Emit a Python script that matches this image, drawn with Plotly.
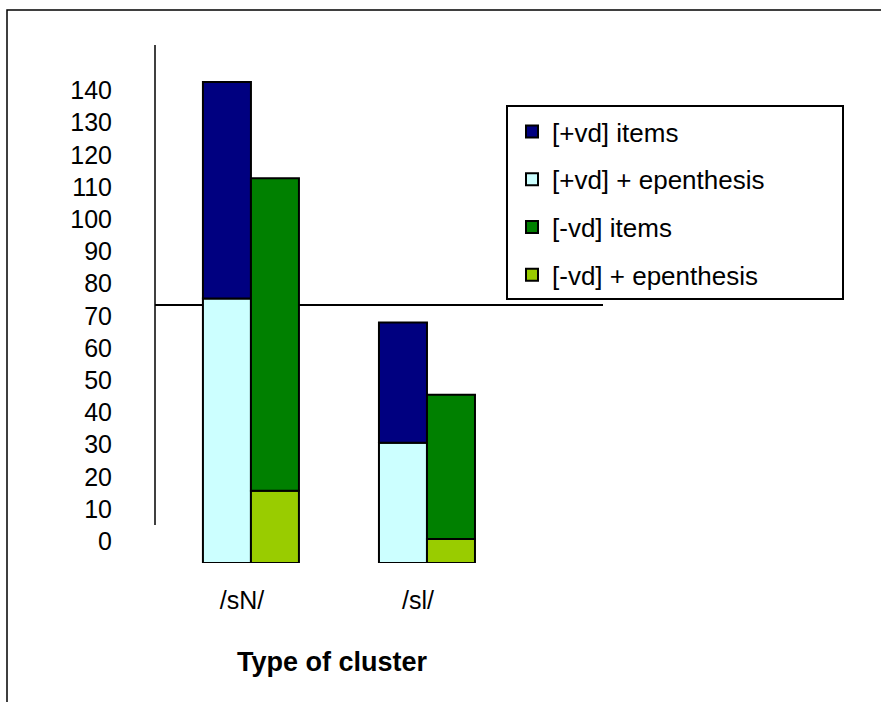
import plotly.graph_objects as go

# Cluster types on the category axis
clusters = ["/sN/", "/sl/"]

# Voiced ([+vd]) stack: epenthesis part at the bottom, remaining items above
vd_epenthesis = [77, 35]
vd_items = [63, 35]

# Voiceless ([-vd]) stack: epenthesis part at the bottom, remaining items above
vl_epenthesis = [21, 7]
vl_items = [91, 42]

# Labels printed along the value scale
scale_ticks = list(range(0, 150, 10))

W, H = 881, 702
FONT = "Liberation Sans, Arial, sans-serif"


def px(x):
    return x / W


def py(y):
    return 1 - y / H


BAR_W = 0.2727
edge = dict(color="black", width=2)

series = [
    # name, values, base, colour, offset, legend position
    ("[+vd] + epenthesis", vd_epenthesis, None, "#CCFFFF", -BAR_W, 2),
    ("[+vd] items", vd_items, vd_epenthesis, "#000080", -BAR_W, 1),
    ("[-vd] + epenthesis", vl_epenthesis, None, "#99CC00", 0, 4),
    ("[-vd] items", vl_items, vl_epenthesis, "#008000", 0, 3),
]

fig = go.Figure()

for name, vals, base, colour, off, rank in series:
    fig.add_trace(go.Bar(
        x=clusters, y=vals, base=base, name=name,
        marker=dict(color=colour, line=edge),
        width=BAR_W, offset=off,
        legendgroup=f"g{rank}", legendrank=rank,
    ))

# Invisible trace carrying the printed value scale
fig.add_trace(go.Scatter(x=[clusters[0]], y=[0], yaxis="y2", mode="markers",
                         marker=dict(opacity=0), showlegend=False,
                         hoverinfo="skip"))

y_bottom_px, y_top_px = 563, 45
bar_scale = (563 - 82) / 140.0  # px per unit for the bars
dom_h = y_bottom_px - y_top_px

label_zero_px, label_scale = 541.3, 3.22

fig.update_layout(
    width=W, height=H, autosize=False,
    margin=dict(l=0, r=0, t=0, b=0),
    paper_bgcolor="white", plot_bgcolor="rgba(0,0,0,0)",
    barmode="overlay",
    font=dict(family=FONT, size=25, color="black"),
    xaxis=dict(
        domain=[px(155), px(603)], type="category",
        categoryorder="array", categoryarray=clusters,
        range=[-0.545, 2.0],
        showline=False, showgrid=False, zeroline=False, ticks="",
        tickfont=dict(size=25), ticklabelstandoff=20, ticklabelshift=-9,
    ),
    yaxis=dict(
        domain=[py(y_bottom_px), py(y_top_px)],
        range=[0, dom_h / bar_scale],
        visible=False,
    ),
    yaxis2=dict(
        overlaying="y", anchor="free", position=px(155), side="left",
        range=[-(y_bottom_px - label_zero_px) / label_scale,
               (label_zero_px - y_top_px) / label_scale],
        tickvals=scale_ticks, ticktext=[str(v) for v in scale_ticks],
        showline=False, showgrid=False, zeroline=False, ticks="",
        tickfont=dict(size=25), ticklabelstandoff=43,
    ),
    legend=dict(
        x=px(512), y=py(108), xanchor="left", yanchor="top",
        bgcolor="rgba(0,0,0,0)", borderwidth=0,
        font=dict(size=26), tracegroupgap=11,
        traceorder="grouped", itemclick=False, itemdoubleclick=False,
    ),
    showlegend=True,
)

shapes = [
    # outer frame
    dict(type="rect", xref="paper", yref="paper",
         x0=px(7), x1=1.02, y0=-0.02, y1=py(10),
         line=dict(color="black", width=1.5)),
    # value axis line
    dict(type="line", xref="paper", yref="paper",
         x0=px(155), x1=px(155), y0=py(525), y1=py(45),
         line=dict(color="black", width=1.5)),
    # horizontal rule across the plot, behind the bars
    dict(type="line", xref="paper", yref="paper",
         x0=px(155), x1=px(603), y0=py(305), y1=py(305),
         line=dict(color="black", width=2), layer="below"),
    # legend frame
    dict(type="rect", xref="paper", yref="paper",
         x0=px(507), x1=px(843), y0=py(299), y1=py(106),
         line=dict(color="black", width=2), layer="below"),
]
fig.update_layout(shapes=shapes)

fig.add_annotation(
    text="<b>Type of cluster</b>", xref="paper", yref="paper",
    x=px(332), y=py(662), xanchor="center", yanchor="middle",
    showarrow=False, font=dict(size=27, family=FONT),
)

fig.write_html("out.html")
